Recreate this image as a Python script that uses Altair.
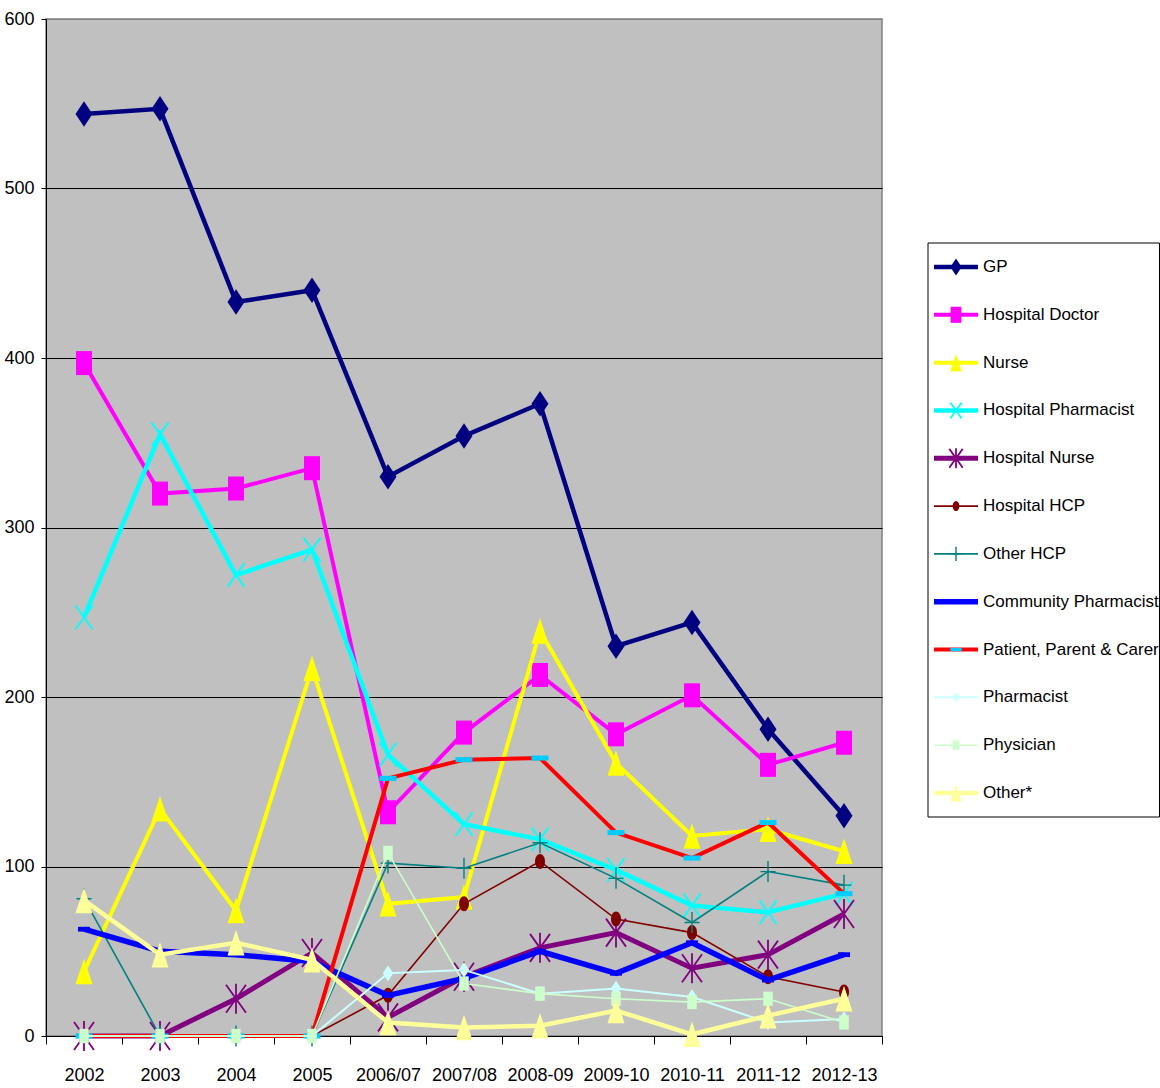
import altair as alt
import pandas as pd

# Reporting periods on the x axis
periods = ["2002", "2003", "2004", "2005", "2006/07", "2007/08", "2008-09",
           "2009-10", "2010-11", "2011-12", "2012-13"]

# Number of reports per reporter group
gp = [544, 547, 433, 440, 330, 354, 373, 230, 244, 181, 130]
hospital_doctor = [397, 320, 323, 335, 132, 179, 213, 178, 201, 160, 173]
nurse = [38, 134, 74, 217, 78, 82, 239, 161, 118, 122, 109]
hospital_pharmacist = [247, 355, 272, 287, 166, 125, 116, 98, 77, 73, 84]
hospital_nurse = [0, 0, 22, 49, 11, 35, 52, 61, 40, 48, 72]
hospital_hcp = [0, 0, 0, 0, 24, 78, 103, 69, 61, 35, 26]
other_hcp = [81, 0, 0, 0, 102, 99, 114, 93, 67, 97, 89]
community_pharmacist = [63, 50, 48, 44, 24, 34, 50, 37, 55, 33, 48]
patient_parent_carer = [0, 0, 0, 0, 152, 163, 164, 120, 105, 126, 84]
pharmacist = [0, 0, 0, 0, 37, 39, 25, 28, 23, 8, 10]
physician = [0, 0, 0, 0, 108, 31, 25, 22, 20, 22, 8]
other = [80, 48, 55, 45, 8, 5, 6, 15, 1, 12, 22]

series_names = ["GP", "Hospital Doctor", "Nurse", "Hospital Pharmacist",
                "Hospital Nurse", "Hospital HCP", "Other HCP",
                "Community Pharmacist", "Patient, Parent & Carer",
                "Pharmacist", "Physician", "Other*"]
series_values = [gp, hospital_doctor, nurse, hospital_pharmacist,
                 hospital_nurse, hospital_hcp, other_hcp,
                 community_pharmacist, patient_parent_carer, pharmacist,
                 physician, other]

# Marker outlines (unit box, drawn taller than wide)
DIAMOND = "M0,-1.5L1,0L0,1.5L-1,0Z"
SQUARE = "M-1,-1.5H1V1.5H-1Z"
TRIANGLE = "M0,-1.5L1,1.5L-1,1.5Z"
XMARK = "M-1,-1.4L1,1.4M-1,1.4L1,-1.4"
STAR = "M-1,-1.4L1,1.4M-1,1.4L1,-1.4M0,-1.5L0,1.5"
ELLIPSE = "M-1,0A1,1.5 0 1,0 1,0A1,1.5 0 1,0 -1,0Z"
PLUS = "M-1,0H1M0,-1.4V1.4"
DASH = "M-1,-0.4H1V0.4H-1Z"
THIN_DASH = "M-1,-0.3H1V0.3H-1Z"

# name: (line colour, line width, marker path, marker colour, marker size, filled, marker stroke)
styles = {
    "GP": ("#000080", 4.5, DIAMOND, "#000080", 289, True, 1),
    "Hospital Doctor": ("#FF00FF", 4, SQUARE, "#FF00FF", 256, True, 1),
    "Nurse": ("#FFFF00", 4, TRIANGLE, "#FFFF00", 289, True, 1),
    "Hospital Pharmacist": ("#00FFFF", 4.5, XMARK, "#00FFFF", 289, False, 1.8),
    "Hospital Nurse": ("#800080", 5, STAR, "#800080", 400, False, 1.8),
    "Hospital HCP": ("#800000", 1.6, ELLIPSE, "#800000", 100, True, 1),
    "Other HCP": ("#008080", 1.6, PLUS, "#008080", 225, False, 1.4),
    "Community Pharmacist": ("#0000FF", 5.5, DASH, "#0000FF", 144, True, 1),
    "Patient, Parent & Carer": ("#FF0000", 4, THIN_DASH, "#00CCFF", 289, True, 1),
    "Pharmacist": ("#CCFFFF", 2, DIAMOND, "#CCFFFF", 110, True, 1),
    "Physician": ("#CCFFCC", 1.6, SQUARE, "#CCFFCC", 90, True, 1),
    "Other*": ("#FFFF99", 4.5, TRIANGLE, "#FFFF99", 289, True, 1),
}

FONT = "Liberation Sans, Arial, sans-serif"
W, H = 836, 1017          # plot area
LEG_X0, LEG_X1 = 882, 1113.5   # legend box, right of the plot area
LEG_Y0, LEG_Y1 = 224, 798

rows = []
for name, vals in zip(series_names, series_values):
    for p, v in zip(periods, vals):
        rows.append({"series": name, "period": p, "count": v})
df = pd.DataFrame(rows)

x_enc = alt.X(
    "period:N", sort=periods, bandPosition=0.5,
    scale=alt.Scale(type="band", paddingInner=0, paddingOuter=0),
    axis=alt.Axis(title=None, grid=False, tickBand="extent", tickSize=8,
                  tickColor="black", domainColor="black", labelAngle=0,
                  labelFont=FONT, labelFontSize=18, labelColor="black",
                  labelPadding=22),
)
y_enc = alt.Y(
    "count:Q",
    scale=alt.Scale(domain=[0, 600], nice=False),
    axis=alt.Axis(title=None, values=[0, 100, 200, 300, 400, 500, 600],
                  grid=True,
                  gridColor={"condition": {"test": "datum.value === 600",
                                           "value": "#808080"},
                             "value": "black"},
                  gridWidth=1, tickSize=5, tickColor="black",
                  domainColor="black", labelFont=FONT, labelFontSize=18,
                  labelColor="black", labelPadding=7),
)

base = alt.Chart(df).encode(x=x_enc, y=y_enc)

plot_layers = []
for name in series_names:
    color, lw, shape, mcolor, msize, filled, mstroke = styles[name]
    sub = base.transform_filter(alt.datum.series == name)
    plot_layers.append(sub.mark_line(color=color, strokeWidth=lw))
    plot_layers.append(sub.mark_point(shape=shape, size=msize, filled=filled,
                                      color=mcolor, strokeWidth=mstroke,
                                      opacity=1))
plot = alt.layer(*plot_layers)

# Legend: box to the right of the plot, one row per series
leg_df = pd.DataFrame({"series": series_names})
box = alt.Chart(pd.DataFrame({"k": [0]})).mark_rect(
    fill="white", stroke="black", strokeWidth=1).encode(
    x=alt.value(LEG_X0), x2=alt.value(LEG_X1),
    y=alt.value(LEG_Y0), y2=alt.value(LEG_Y1))

leg_y = alt.Y("series:N", sort=series_names, axis=None,
              scale=alt.Scale(type="point", range=[LEG_Y0 + 24, LEG_Y1 - 24],
                              padding=0))
leg_base = alt.Chart(leg_df).encode(y=leg_y)
leg_layers = [box]
for name in series_names:
    color, lw, shape, mcolor, msize, filled, mstroke = styles[name]
    sub = leg_base.transform_filter(alt.datum.series == name)
    leg_layers.append(sub.mark_rule(color=color, strokeWidth=lw).encode(
        x=alt.value(LEG_X0 + 6), x2=alt.value(LEG_X0 + 50)))
    leg_layers.append(sub.mark_point(shape=shape, size=msize * 0.45,
                                     filled=filled, color=mcolor,
                                     strokeWidth=mstroke, opacity=1)
                      .encode(x=alt.value(LEG_X0 + 28)))
leg_layers.append(leg_base.mark_text(align="left", baseline="middle",
                                     font=FONT, fontSize=17, color="black")
                  .encode(x=alt.value(LEG_X0 + 55), text="series:N"))
legend = alt.layer(*leg_layers)

chart = alt.layer(plot, legend).resolve_scale(y="independent").properties(
    width=W, height=H,
    view=alt.ViewBackground(fill="#C0C0C0", stroke="#808080", strokeWidth=1.5),
    padding={"left": 46, "top": 19, "right": 278, "bottom": 52},
    autosize=alt.AutoSizeParams(type="none"),
    background="white",
)

chart.save("out.html", embed_options={"renderer": "svg", "actions": False})
